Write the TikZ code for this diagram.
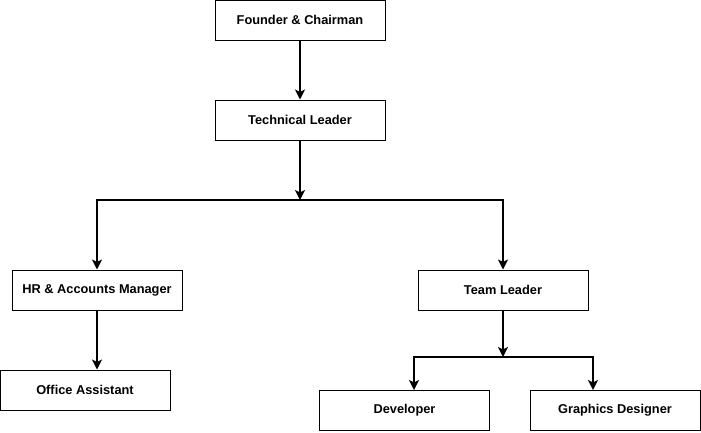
\documentclass[tikz,border=0pt]{standalone}
\usepackage{fontspec}
\setmainfont{Liberation Sans}
\usetikzlibrary{arrows.meta}
\begin{document}
\begin{tikzpicture}[
    x=1pt, y=-1pt,
    role/.style={draw, line width=1pt, fill=white, minimum width=170pt, minimum height=40pt, font=\fontsize{12.8}{15}\selectfont\bfseries},
    arrow/.style={-{Stealth[length=10pt, width=10pt, inset=2.5pt]}, line width=2pt}
]
    \useasboundingbox (0,0) rectangle (701,432);

    % Roles
    \node[role] (founder) at (300,20) {Founder \& Chairman};
    \node[role] (tech) at (300,120) {Technical Leader};
    \node[role] (hr) at (97,290) {HR \& Accounts Manager};
    \node[role] (team) at (503,290) {Team Leader};
    \node[role] (office) at (85,390) {Office Assistant};
    \node[role] (dev) at (404.5,410) {Developer};
    \node[role] (graphics) at (615,410) {Graphics Designer};

    % Branch points
    \coordinate (split1) at (300,200);
    \coordinate (split2) at (503,357);
    \coordinate (devtop) at (414,390);
    \coordinate (graphicstop) at (593,390);

    % Arrows
    \draw[arrow] (founder) -- (tech);
    \draw[arrow] (tech) -- (split1);
    \draw[arrow] (split1) -| (hr);
    \draw[arrow] (split1) -| (team);
    \draw[arrow] (hr.south) -- (hr.south |- office.north);
    \draw[arrow] (team) -- (split2);
    \draw[arrow] (split2) -| (devtop);
    \draw[arrow] (split2) -| (graphicstop);
\end{tikzpicture}
\end{document}
